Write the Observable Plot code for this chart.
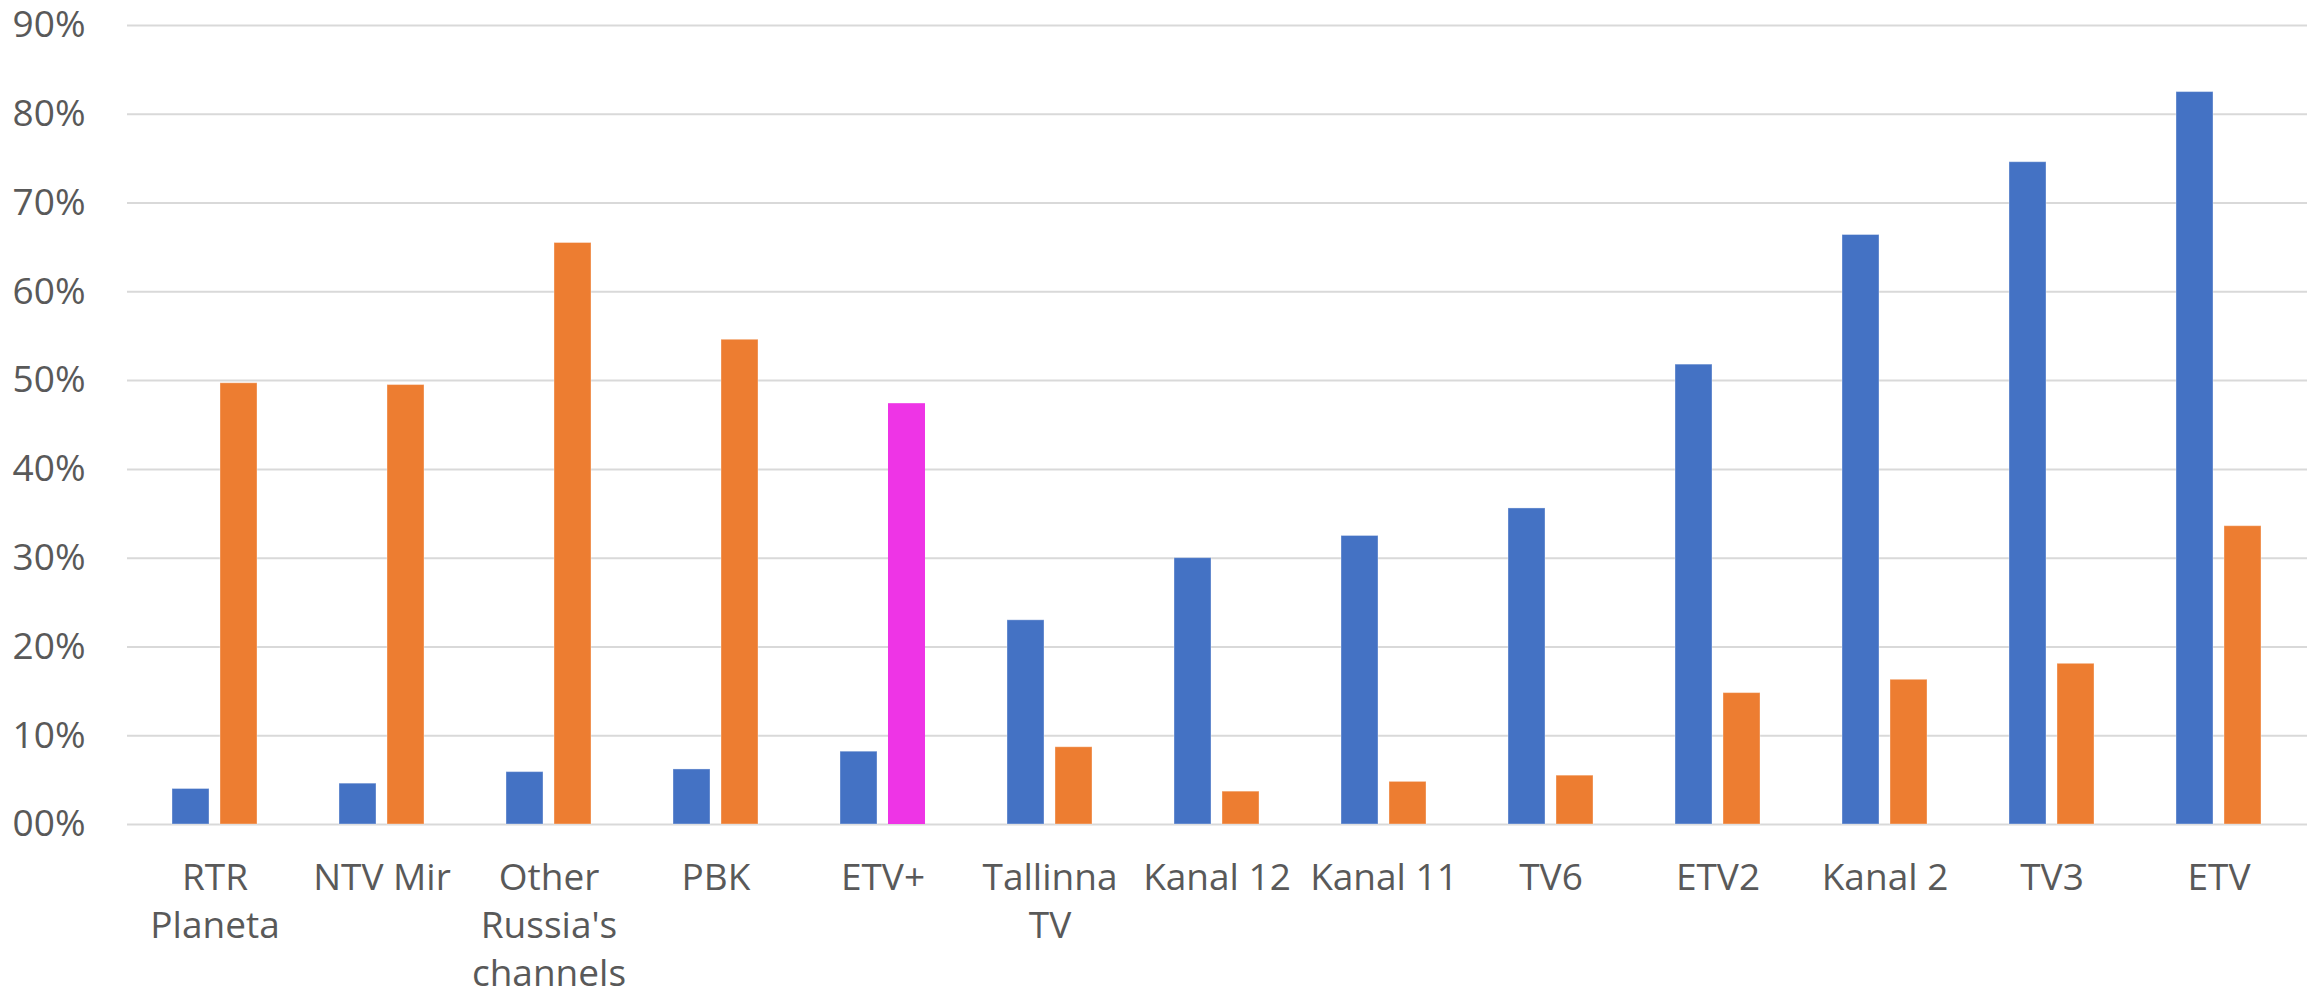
<!DOCTYPE html>
<html>
<head>
<meta charset="utf-8">
<script src="https://cdn.jsdelivr.net/npm/d3@7"></script>
<script src="https://cdn.jsdelivr.net/npm/@observablehq/plot@0.6"></script>
<style>
  html, body { margin: 0; padding: 0; background: #ffffff; }
  #chart svg { display: block; }
</style>
</head>
<body>
<div id="chart"></div>
<script>
// ---- data ----
const categories = ["RTR Planeta", "NTV Mir", "Other Russia's channels", "PBK", "ETV+", "Tallinna TV", "Kanal 12", "Kanal 11", "TV6", "ETV2", "Kanal 2", "TV3", "ETV"];
const categoryLabels = ["RTR\nPlaneta", "NTV Mir", "Other\nRussia's\nchannels", "PBK", "ETV+", "Tallinna\nTV", "Kanal 12", "Kanal 11", "TV6", "ETV2", "Kanal 2", "TV3", "ETV"];
const seriesBlue = [0.040, 0.046, 0.059, 0.062, 0.082, 0.230, 0.300, 0.325, 0.356, 0.518, 0.664, 0.746, 0.825];
const seriesOrange = [0.497, 0.495, 0.655, 0.546, 0.474, 0.087, 0.037, 0.048, 0.055, 0.148, 0.163, 0.181, 0.336];
const highlighted = "ETV+";
const yTicks = [0, 0.1, 0.2, 0.3, 0.4, 0.5, 0.6, 0.7, 0.8, 0.9];
const yTickLabels = ["00%", "10%", "20%", "30%", "40%", "50%", "60%", "70%", "80%", "90%"];

// ---- tables ----
const blueRows = categories.map((c, i) => ({cat: c, value: seriesBlue[i]}));
const orangeRows = categories.map((c, i) => ({cat: c, value: seriesOrange[i]}));
const labelOf = new Map(categories.map((c, i) => [c, categoryLabels[i]]));
const yLabelOf = new Map(yTicks.map((t, i) => [t, yTickLabels[i]]));

const BLUE = "#4472C4", ORANGE = "#ED7D31", MAGENTA = "#EE34E6";
const textColor = "#595959";
const font = "'Open Sans', sans-serif";
const barShift = 48; // bar width + gap inside a category group

const chart = Plot.plot({
  width: 2318,
  height: 1002,
  marginLeft: 127,
  marginRight: 11,
  marginTop: 25,
  marginBottom: 178,
  style: {fontFamily: font, fontSize: "37px", color: textColor, background: "#ffffff"},
  x: {domain: categories, paddingInner: 0.49, paddingOuter: 0.245, axis: null},
  y: {domain: [0, 0.9], axis: null},
  marks: [
    Plot.gridY(yTicks, {stroke: "#D9D9D9", strokeOpacity: 1, strokeWidth: 2}),
    Plot.barY(blueRows, {x: "cat", y: "value", fill: BLUE, insetRight: barShift, stroke: "#ffffff", strokeOpacity: 0.35, strokeWidth: 1}),
    Plot.barY(orangeRows.filter(d => d.cat !== highlighted), {x: "cat", y: "value", fill: ORANGE, insetLeft: barShift, stroke: "#ffffff", strokeOpacity: 0.35, strokeWidth: 1}),
    Plot.barY(orangeRows.filter(d => d.cat === highlighted), {x: "cat", y: "value", fill: MAGENTA, insetLeft: barShift}),
    Plot.axisY(yTicks, {tickSize: 0, tickPadding: 42, tickFormat: d => yLabelOf.get(d), fontSize: 37, fill: textColor, label: null}),
    Plot.axisX({tickSize: 0, tickPadding: 31, tickFormat: d => labelOf.get(d), fontSize: 37, fill: textColor, lineHeight: 1.3, label: null})
  ]
});
document.getElementById("chart").appendChild(chart);
</script>
</body>
</html>
